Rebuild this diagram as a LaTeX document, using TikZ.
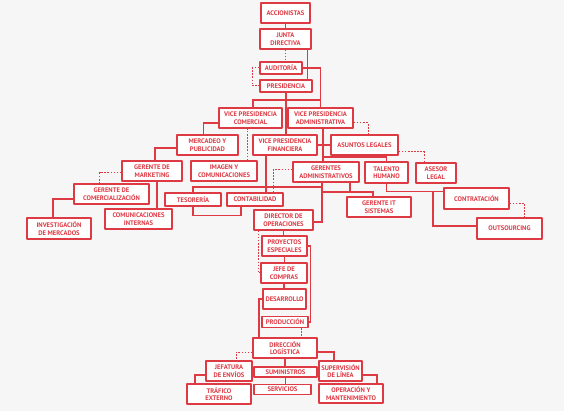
\documentclass[tikz,border=0pt]{standalone}
\usepackage{fontspec}
\setmainfont{PT Sans}
\definecolor{orgred}{RGB}{222,58,68}
\definecolor{paper}{RGB}{247,246,246}
\pgfdeclarelayer{lines}
\pgfsetlayers{lines,main}
\begin{document}
\begin{tikzpicture}[x=1pt, y=-1pt, line cap=round, line join=round, font=\fontsize{6.6}{7.6}\selectfont\bfseries]
	\tikzset{box/.style={draw=orgred, fill=white, line width=1.2pt, text=orgred, align=center, inner sep=0pt},
		conn/.style={draw=orgred, line width=1.1pt},
		dconn/.style={conn, line width=1pt, dash pattern=on 1.6pt off 1.5pt}}
	\useasboundingbox (0,0) rectangle (564,411);
	% direccion general
	\node[box, minimum width=49, minimum height=20] (acc) at (285.5,13) {ACCIONISTAS};
	\node[box, minimum width=51, minimum height=20] (jun) at (285.5,39) {JUNTA\\DIRECTIVA};
	\node[box, minimum width=42, minimum height=12] (aud) at (281,68) {AUDITORÍA};
	\node[box, minimum width=52, minimum height=12] (pre) at (286,86) {PRESIDENCIA};
	\node[box, minimum width=63, minimum height=20] (vpc) at (250.5,118) {VICE PRESIDENCIA\\COMERCIAL};
	\node[box, minimum width=65, minimum height=20] (vpa) at (320.5,118) {VICE PRESIDENCIA\\ADMINISTRATIVA};
	\node[box, minimum width=64, minimum height=20] (vpf) at (285,145) {VICE PRESIDENCIA\\FINANCIERA};
	\node[box, minimum width=67, minimum height=20] (leg) at (364.5,145) {ASUNTOS LEGALES};
	% area comercial
	\node[box, minimum width=61, minimum height=20] (mer) at (207.5,145) {MERCADEO Y\\PUBLICIDAD};
	\node[box, minimum width=66, minimum height=20] (ima) at (224,171) {IMAGEN Y\\COMUNICACIONES};
	\node[box, minimum width=60, minimum height=20] (mkt) at (152,171) {GERENTE DE\\MARKETING};
	\node[box, minimum width=75, minimum height=20] (com) at (111.5,194) {GERENTE DE\\COMERCIALIZACIÓN};
	\node[box, minimum width=64, minimum height=21] (inv) at (59,228.5) {INVESTIGACIÓN\\DE MERCADOS};
	\node[box, minimum width=67, minimum height=20] (cin) at (138.5,219) {COMUNICACIONES\\INTERNAS};
	% area financiera y administrativa
	\node[box, minimum width=56, minimum height=13] (tes) at (193,199.5) {TESORERÍA};
	\node[box, minimum width=56, minimum height=13] (con) at (255,199.5) {CONTABILIDAD};
	\node[box, minimum width=66, minimum height=20] (gad) at (326,172) {GERENTES\\ADMINISTRATIVOS};
	\node[box, minimum width=43, minimum height=21] (tal) at (386.5,172.5) {TALENTO\\HUMANO};
	\node[box, minimum width=40, minimum height=20] (ase) at (436,173) {ASESOR\\LEGAL};
	\node[box, minimum width=65, minimum height=21] (ctr) at (476.5,198.5) {CONTRATACIÓN};
	\node[box, minimum width=65, minimum height=21] (out) at (509.5,228.5) {OUTSOURCING};
	\node[box, minimum width=64, minimum height=20] (git) at (379,207) {GERENTE IT\\SISTEMAS};
	% operaciones
	\node[box, minimum width=59, minimum height=20] (dop) at (283.5,220) {DIRECTOR DE\\OPERACIONES};
	\node[box, minimum width=45, minimum height=20] (pro) at (284.5,246) {PROYECTOS\\ESPECIALES};
	\node[box, minimum width=46, minimum height=20] (jef) at (284,273) {JEFE DE\\COMPRAS};
	\node[box, minimum width=43, minimum height=20] (des) at (284.5,299) {DESARROLLO};
	\node[box, minimum width=46, minimum height=11] (prd) at (285,322) {PRODUCCIÓN};
	% logistica
	\node[box, minimum width=64, minimum height=20] (dlo) at (285,348) {DIRECCIÓN\\LOGÍSTICA};
	\node[box, minimum width=46, minimum height=20] (env) at (229,371) {JEFATURA\\DE ENVÍOS};
	\node[box, minimum width=63, minimum height=10] (sum) at (285.5,372) {SUMINISTROS};
	\node[box, minimum width=43, minimum height=20] (sup) at (340.5,371) {SUPERVISIÓN\\DE LÍNEA};
	\node[box, minimum width=64, minimum height=20] (tra) at (219,394) {TRÁFICO\\EXTERNO};
	\node[box, minimum width=57, minimum height=10] (ser) at (282.5,389.5) {SERVICIOS};
	\node[box, minimum width=64, minimum height=19] (ope) at (351,393.5) {OPERACIÓN Y\\MANTENIMIENTO};
	% conectores
	\coordinate (bus) at (286,100);
	\coordinate (fin) at (322,187);
	\coordinate (its) at (350,192);
	\coordinate (adm) at (323,157);
	\coordinate (hum) at (433,191.5);
	\begin{pgfonlayer}{lines}
	\fill[paper] (0,0) rectangle (564,411);
	\draw[conn] (acc.south) -- (jun.north);
	\draw[dconn] (jun.south) -- (jun.south |- aud.north);
	\draw[conn] ([xshift=-4pt]jun.south east) -- ([xshift=-4pt]jun.south east |- pre.north);
	\draw[dconn] (aud.west) -- ++(-7,0) |- (pre.west);
	\draw[conn] (aud.east) -| (vpa.north);
	\draw[conn] ([xshift=2.5pt]vpc.north) |- (bus) -| (vpa.north);
	\draw[conn] (pre.south) -- (pre.south |- vpf.north);
	\draw[conn] ([yshift=-5pt]vpc.west) -| ([xshift=-4pt]mer.north);
	\draw[dconn] ([xshift=-10pt]ima.north east) -- ([xshift=-10pt]ima.north east |- vpc.south);
	\draw[conn] ([yshift=-3pt]mer.west) -| ([xshift=3pt]mkt.north);
	\draw[dconn] ([yshift=-2pt]mkt.west) -| ([xshift=-12pt]com.north);
	\draw[conn] ([xshift=5pt]mkt.south) -- ([xshift=5pt]mkt.south |- cin.north);
	\draw[conn] ([yshift=-5pt]com.west) -| ([xshift=-6pt]inv.north);
	\draw[conn] ([xshift=-19pt]vpf.south) -- ([xshift=-19pt]vpf.south |- con.north);
	\draw[conn] (vpf.east) -- (leg.west);
	\draw[dconn] ([yshift=-5pt]vpa.east) -| ([xshift=3.5pt]leg.north);
	\draw[dconn] ([yshift=-7pt]leg.east) -| ([xshift=-12pt]ase.north);
	\draw[conn] (vpa.south -| adm) -- (adm |- gad.north);
	\draw[conn] (adm) -| (tal.north);
	\draw[conn] (tes.north) |- (fin) -- (fin |- gad.south);
	\draw[conn] (fin) |- ([yshift=-2pt]dop.east);
	\draw[conn] (its |- gad.south) -- (its);
	\draw[conn] (fin |- its) -| ([xshift=-6pt]git.north);
	\draw[dconn] ([yshift=2pt]gad.west) -| ([xshift=18pt]con.north);
	\draw[conn] (tes.south) -- ++(0,9) -| ([xshift=-14pt]con.south);
	\draw[conn] (tal.south) |- ([yshift=7pt]ctr.west);
	\draw[conn] (hum) |- ([yshift=2.5pt]out.west);
	\draw[dconn] ([yshift=-5pt]ctr.east) -| ([xshift=15pt]out.north);
	\draw[conn] (dop.south) -- (dop.south |- pro.north);
	\draw[dconn] ([xshift=-25.5pt]dop.south) |- (jef.west);
	\draw[conn] (pro.south) -- (pro.south |- jef.north);
	\draw[conn] (jef.south) -- (jef.south |- des.north);
	\draw[conn] (pro.east) -- ++(3,0) |- (prd.east);
	\draw[conn] (des.west) -| ([xshift=-26pt]dlo.north);
	\draw[dconn] ([xshift=16pt]prd.south) -- ([xshift=16pt]prd.south |- dlo.north);
	\draw[dconn] ([yshift=-4pt]dlo.west) -| ([xshift=7pt]env.north);
	\draw[conn] ([yshift=-4pt]dlo.east) -| ([xshift=-6.5pt]sup.north);
	\draw[conn] (dlo.south) -- (dlo.south |- sum.north);
	\draw[conn] (sum.south) -- (sum.south |- ser.north);
	\draw[conn] ([yshift=-4pt]env.west) -| ([xshift=-24pt]tra.north);
	\draw[conn] ([yshift=-4pt]sup.east) -| ([xshift=26pt]ope.north);
	\end{pgfonlayer}
\end{tikzpicture}
\end{document}
